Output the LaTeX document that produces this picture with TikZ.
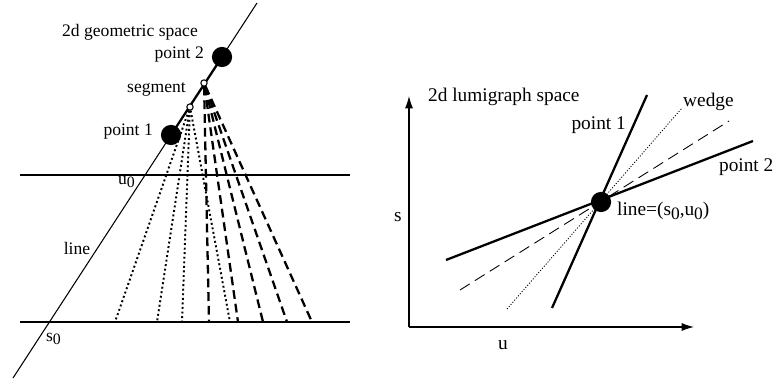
\documentclass[tikz,border=0pt]{standalone}
\usepackage{fontspec}
\setmainfont{Liberation Serif}
\usetikzlibrary{arrows.meta}
\newcommand{\lowsub}[1]{\raisebox{-0.45ex}{\fontsize{0.9em}{1em}\selectfont#1}}

\begin{document}
\begin{tikzpicture}[x=0.02cm,y=-0.02cm,>={Latex[length=7pt,width=4.5pt]},font=\fontsize{10}{12}\selectfont,
  bigdot/.style={circle,fill,inner sep=0pt,minimum size=11.5pt},
  smalldot/.style={circle,draw,fill=white,inner sep=0pt,minimum size=3.6pt,line width=0.6pt},
  thin line/.style={line width=0.6pt},
  thick line/.style={line width=1.3pt},
  fandots/.style={line width=1.1pt,dash pattern=on 1.1pt off 1.5pt},
  fandashes/.style={line width=1.3pt,dash pattern=on 5pt off 2.8pt},
  wedgedots/.style={line width=0.5pt,dash pattern=on 0.6pt off 1pt},
  wedgedashes/.style={line width=0.5pt,dash pattern=on 6.5pt off 3.5pt}]
\useasboundingbox (0,0) rectangle (773,381);
% left: 2d geometric space
\coordinate (lineA) at (13,378);
\coordinate (lineB) at (257,3);
\coordinate (uL) at (20,175);
\coordinate (uR) at (350,175);
\coordinate (sL) at (20,322);
\coordinate (sR) at (350,322);
\draw[thin line] (uL) -- (uR);
\draw[thin line] (sL) -- (sR);
\draw[thin line] (lineA) -- (lineB);
\node[bigdot] (pt1) at (171,135) {};
\node[bigdot] (pt2) at (222,57) {};
\draw[thick line] (pt1.center) -- (pt2.center);
\node[smalldot] (seg1) at (190,107) {};
\node[smalldot] (seg2) at (204,83) {};
\foreach \x in {115,157,182,230} {
  \coordinate (dot\x) at (\x,322);
  \draw[fandots] (seg1) -- (dot\x);
}
\foreach \x in {209,238,263,287,312} {
  \coordinate (dash\x) at (\x,322);
  \draw[fandashes] (seg2) -- (dash\x);
}
\node (geo) at (130,32) {2d geometric space};
\node[anchor=east] (lpt2) at (210,55) {point 2};
\node[anchor=east] (lseg) at (192,89) {segment};
\node[anchor=east] (lpt1) at (159,132) {point 1};
\node[anchor=west,inner sep=1pt] (u0) at (116,182) {u\lowsub{0}};
\node (lline) at (77,248) {line};
\node[anchor=west,inner sep=1pt] (s0) at (44,339) {s\lowsub{0}};
% right: 2d lumigraph space
\begin{scope}[font=\fontsize{11}{13}\selectfont]
\coordinate (org) at (409,327);
\coordinate (saxis) at (409,96);
\coordinate (uaxis) at (694,327);
\draw[thin line,->] (org) -- (saxis);
\draw[thin line,->] (org) -- (uaxis);
\coordinate (w1a) at (507,309);
\coordinate (w1b) at (682,108);
\coordinate (w2a) at (460,290);
\coordinate (w2b) at (729,121);
\draw[wedgedots] (w1a) -- (w1b);
\draw[wedgedashes] (w2a) -- (w2b);
\coordinate (p1a) at (552,308);
\coordinate (p1b) at (647,95);
\coordinate (p2a) at (446,260);
\coordinate (p2b) at (753,141);
\draw[thick line] (p1a) -- (p1b);
\draw[thick line] (p2a) -- (p2b);
\node[bigdot] (ctr) at (601,202) {};
\node[anchor=west] (lum) at (422,97) {2d lumigraph space};
\node[anchor=west] (wedge) at (677,102) {wedge};
\node[anchor=east] (rpt1) at (632,125) {point 1};
\node[anchor=west,inner sep=1pt] (rpt2) at (717,167) {point 2};
\node[anchor=west] (rline) at (611,211) {line=(s\lowsub{0},u\lowsub{0})};
\node (slab) at (398,217) {s};
\node (ulab) at (503,345) {u};
\end{scope}
\end{tikzpicture}
\end{document}
